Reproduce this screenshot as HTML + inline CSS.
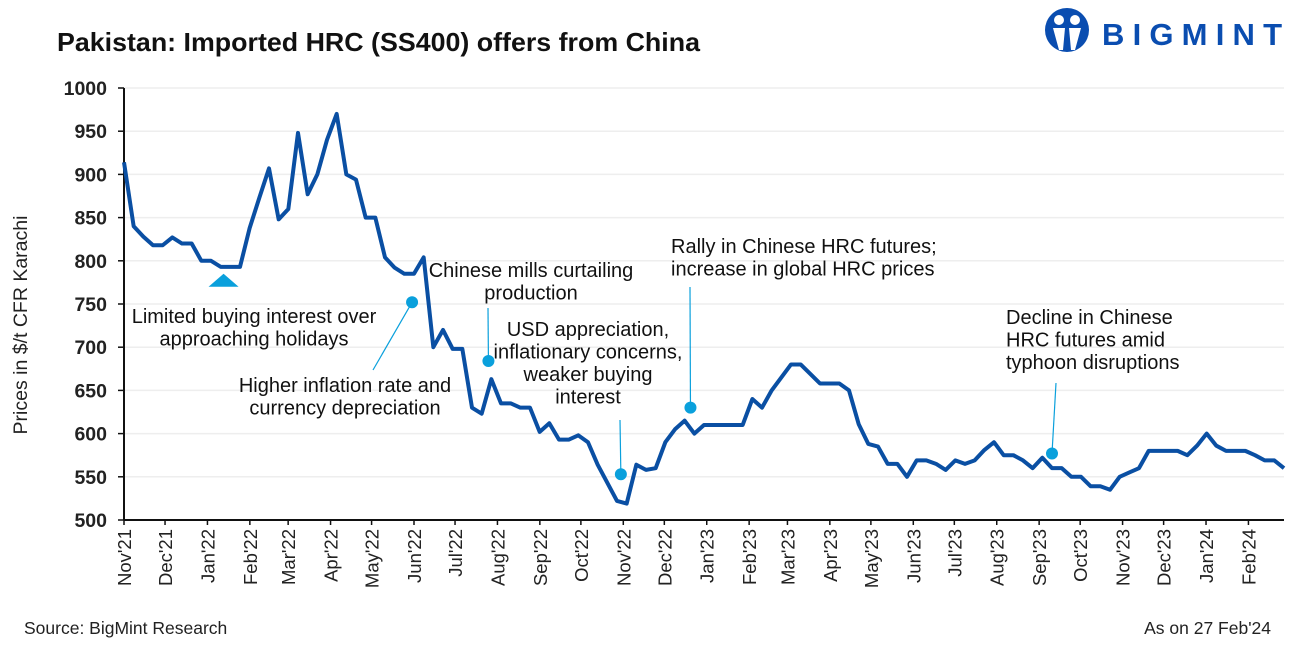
<!DOCTYPE html>
<html><head><meta charset="utf-8"><style>
body{margin:0;background:#fff;font-family:"Liberation Sans",sans-serif;}
svg text{font-family:"Liberation Sans",sans-serif;}
</style></head><body>
<svg id="chart" width="1296" height="649" viewBox="0 0 1296 649" xmlns="http://www.w3.org/2000/svg">
<text x="57" y="51" font-size="26" font-weight="bold" fill="#111" textLength="643" lengthAdjust="spacingAndGlyphs">Pakistan: Imported HRC (SS400) offers from China</text>
<g>
<circle cx="1067" cy="30" r="22" fill="#0a4db0"/>
<circle cx="1059" cy="20" r="5" fill="#fff"/><circle cx="1075" cy="20" r="5" fill="#fff"/>
<path d="M1053 28 L1065 28 L1063 50 L1059 50 Z M1069 28 L1081 28 L1075 50 L1071 50 Z" fill="#fff"/>
<text x="1102" y="45" font-size="31" font-weight="bold" fill="#0a4db0" textLength="180">BIGMINT</text>
</g>
<text transform="translate(27,325) rotate(-90)" text-anchor="middle" font-size="19.5" fill="#222">Prices in $/t CFR Karachi</text>
<g id="grid"></g><g id="axes"></g><g id="series"></g><g id="notes"></g>
<text x="24" y="634" font-size="17.5" fill="#222">Source: BigMint Research</text>
<text x="1271" y="634" font-size="17.5" fill="#222" text-anchor="end">As on 27 Feb'24</text>
</svg>
<script>
const prices=[914,840,828,818,818,827,820,820,800,800,793,793,793,838,873,907,848,860,948,877,900,940,970,900,894,850,850,804,792,785,785,804,
700,720,698,698,630,623,663,635,635,630,630,602,612,593,593,598,590,564,543,522,519,564,558,560,590,605,615,600,610,610,610,610,610,640,630,650,665,680,680,669,658,658,658,650,611,588,585,565,565,550,569,569,565,558,569,565,569,581,590,575,575,569,560,572,560,560,550,550,539,539,535,550,555,560,580,580,580,580,575,586,600,586,580,580,580,575,569,569,560];
const yTicks=[500,550,600,650,700,750,800,850,900,950,1000];
const monthLabels=["Nov'21","Dec'21","Jan'22","Feb'22","Mar'22","Apr'22","May'22","Jun'22","Jul'22","Aug'22","Sep'22","Oct'22","Nov'22","Dec'22","Jan'23","Feb'23","Mar'23","Apr'23","May'23","Jun'23","Jul'23","Aug'23","Sep'23","Oct'23","Nov'23","Dec'23","Jan'24","Feb'24"];
const monthDays=[0,30,61,92,120,151,181,212,242,273,304,334,365,395,426,457,485,516,546,577,607,638,669,699,730,760,791,822];
const markerWeeks=[29.8,37.7,51.4,58.6,96];
const markerVals=[752,684,553,630,577];
const X0=124,X1=1284,Y0=520,Y1=88,TOTAL_DAYS=848;
const NS="http://www.w3.org/2000/svg";
const yS=v=>Y0-(v-500)/500*(Y0-Y1);
const xW=i=>X0+i*(X1-X0)/(prices.length-1);
const xD=d=>X0+d*(X1-X0)/TOTAL_DAYS;
function mk(tag,attrs,parent,txt){const e=document.createElementNS(NS,tag);for(const k in attrs)e.setAttribute(k,attrs[k]);if(txt!==undefined)e.textContent=txt;document.getElementById(parent).appendChild(e);return e;}
yTicks.forEach(v=>{
 if(v>500){const g=mk('line',{x1:X0,x2:X1,y1:yS(v),y2:yS(v),stroke:'#eeeeee','stroke-width':1.5},'grid');
 
 }
 const t=mk('text',{x:107,y:yS(v)+7,'text-anchor':'end','font-size':19.5,'font-weight':'bold',fill:'#222'},'axes',v);
 
 
 const tk=mk('line',{x1:X0-6,x2:X0,y1:yS(v),y2:yS(v),stroke:'#111','stroke-width':1.5},'axes');
 
 
});
const ya=mk('line',{x1:X0,x2:X0,y1:Y1,y2:Y0,stroke:'#111','stroke-width':2},'axes');


const xa=mk('line',{x1:X0,x2:X1,y1:Y0,y2:Y0,stroke:'#111','stroke-width':2},'axes');


monthLabels.forEach((m,i)=>{
 const x=xD(monthDays[i]);
 const tk=mk('line',{x1:x,x2:x,y1:Y0,y2:Y0+5,stroke:'#111','stroke-width':1.5},'axes');
 
 
 const t=mk('text',{transform:`translate(${x+7},${Y0+9}) rotate(-90)`,'text-anchor':'end','font-size':18.5,fill:'#222'},'axes',m);
 
 
});
const pl=mk('polyline',{points:prices.map((v,i)=>xW(i)+','+yS(v)).join(' '),fill:'none',stroke:'#0a4fa3','stroke-width':4,'stroke-linejoin':'round'},'series');


const tri=mk('path',{d:`M${xW(10.3)-15} ${yS(770)} L${xW(10.3)} ${yS(770)-13} L${xW(10.3)+15} ${yS(770)} Z`,fill:'#0aa0dc'},'notes');


const leaders=[[373,370],[488,308],[620,420],[690,287],[1056,383]];
markerWeeks.forEach((w,i)=>{
 const x=xW(w),y=yS(markerVals[i]);
 const l=mk('line',{x1:x,y1:y,x2:leaders[i][0],y2:leaders[i][1],stroke:'#0aa0dc','stroke-width':1.2},'notes');
 
 
 const c=mk('circle',{cx:x,cy:y,r:6,fill:'#0aa0dc'},'notes');
 
 
});
const notes=[
 {x:254,y:323,a:'middle',lines:["Limited buying interest over","approaching holidays"]},
 {x:345,y:392,a:'middle',lines:["Higher inflation rate and","currency depreciation"]},
 {x:531,y:277,a:'middle',lines:["Chinese mills curtailing","production"]},
 {x:588,y:336,a:'middle',lines:["USD appreciation,","inflationary concerns,","weaker buying","interest"]},
 {x:671,y:253,a:'start',lines:["Rally in Chinese HRC futures;","increase in global HRC prices"]},
 {x:1006,y:324,a:'start',lines:["Decline in Chinese","HRC futures amid","typhoon disruptions"]}
];
notes.forEach(n=>{
 const t=mk('text',{x:n.x,y:n.y,'text-anchor':n.a,'font-size':20,fill:'#111'},'notes');
 
 
 n.lines.forEach((s,i)=>{const ts=document.createElementNS(NS,'tspan');ts.setAttribute('x',n.x);ts.setAttribute('dy',i?22.5:0);ts.textContent=s;t.appendChild(ts);});
});
</script>
</body></html>
